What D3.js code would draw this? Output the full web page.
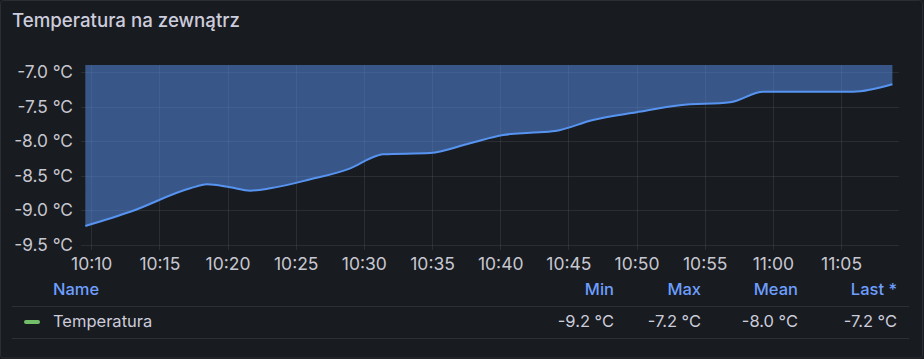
<!DOCTYPE html>
<html><head><meta charset="utf-8">
<script src="https://cdn.jsdelivr.net/npm/d3@7"></script>
<style>
html,body{margin:0;padding:0;background:#181b1f;}
svg{display:block;font-family:Inter,"Noto Sans",sans-serif;}
</style></head><body>
<svg id="c" width="924" height="359"></svg>
<script>
// ---- data ----
const title = "Temperatura na zewnątrz";
const seriesName = "Temperatura";
const unit = "°C";
const times = ["10:09:34","10:12:52","10:17:16","10:18:29","10:20:11","10:21:40","10:23:08",
  "10:26:04","10:29:00","10:30:57","10:31:25","10:34:52","10:37:47","10:40:13","10:42:11","10:44:02",
  "10:46:48","10:50:00","10:53:11","10:56:52","10:59:18","11:05:54","11:08:46"];
const values = [-9.225,-9.02,-8.681,-8.623,-8.666,-8.715,-8.681,
  -8.551,-8.392,-8.21,-8.189,-8.171,-8.03,-7.91,-7.877,-7.853,
  -7.694,-7.582,-7.481,-7.438,-7.285,-7.285,-7.178];
const yTicks = [-7.0,-7.5,-8.0,-8.5,-9.0,-9.5];
const yRange = [-9.572,-6.899];
const timeRange = ["10:09:15","11:09:15"];
const statNames = ["Min","Max","Mean","Last *"];
const statValues = [-9.2,-7.2,-8.0,-7.2];

// ---- drawing ----
const W = 924, H = 359;
const svg = d3.select("#c");
const parse = d3.timeParse("%H:%M:%S");
const data = times.map((t,i)=>({t:parse(t), v:values[i]}));

const plot = {left:81, right:899, top:65, bottom:250};
const x = d3.scaleTime().domain(timeRange.map(parse)).range([plot.left, plot.right]);
const y = d3.scaleLinear().domain(yRange).range([plot.bottom, plot.top]);

// panel frame
svg.append("rect").attr("x",0.5).attr("y",0.5).attr("width",W-2).attr("height",H-1.5)
  .attr("rx",3).attr("fill","#181b1f").attr("stroke","#2a2d33");

// title
svg.append("text").attr("x",12).attr("y",27).text(title)
  .attr("fill","#ccccdc").attr("font-size",18.7).attr("font-weight",500);

const gridColor = "rgba(204,204,220,0.1)";
// grid
const xTicks = x.ticks(d3.timeMinute.every(5));
svg.append("g").selectAll("line").data(yTicks).join("line")
  .attr("x1",plot.left).attr("x2",plot.right)
  .attr("y1",d=>Math.round(y(d))+0.5).attr("y2",d=>Math.round(y(d))+0.5)
  .attr("stroke",gridColor);
svg.append("g").selectAll("line").data(xTicks).join("line")
  .attr("x1",d=>Math.round(x(d))+0.5).attr("x2",d=>Math.round(x(d))+0.5)
  .attr("y1",plot.top).attr("y2",plot.bottom)
  .attr("stroke",gridColor);

// area + line
svg.append("clipPath").attr("id","clip").append("rect")
  .attr("x",plot.left).attr("y",plot.top).attr("width",plot.right-plot.left).attr("height",plot.bottom-plot.top);
const area = d3.area().x(d=>x(d.t)).y0(y(yRange[1])).y1(d=>y(d.v)).curve(d3.curveMonotoneX);
const line = d3.line().x(d=>x(d.t)).y(d=>y(d.v)).curve(d3.curveMonotoneX);
const g = svg.append("g").attr("clip-path","url(#clip)");
g.append("path").datum(data).attr("d",area).attr("fill","#5794f2").attr("fill-opacity",0.5);
g.append("path").datum(data).attr("d",line).attr("fill","none").attr("stroke","#5794f2").attr("stroke-width",2);

// y axis labels
const tickColor = "#c7c7d1";
const yAxis = d3.axisLeft(y).tickValues(yTicks).tickSize(0).tickPadding(0)
  .tickFormat(d=>d3.format(".1f")(d).replace("−","-")+" "+unit);
svg.append("g").attr("transform","translate(73,0)").call(yAxis)
  .call(s=>s.select(".domain").remove())
  .call(s=>s.selectAll("text").attr("fill",tickColor).attr("font-size",17.3).attr("font-family","Inter"));

// x axis labels
const xAxis = d3.axisBottom(x).tickValues(xTicks).tickSize(0).tickPadding(0)
  .tickFormat(d3.timeFormat("%H:%M"));
svg.append("g").attr("transform","translate(0,258)").call(xAxis)
  .call(s=>s.select(".domain").remove())
  .call(s=>s.selectAll("text").attr("fill",tickColor).attr("font-size",17.5).attr("font-family","Inter"));

// legend table
const statX = [614,701,798,897];
const hdr = svg.append("g").attr("font-size",16.5).attr("font-weight",500).attr("fill","#6e9fff");
hdr.append("text").attr("x",53).attr("y",295).text("Name");
statNames.forEach((n,i)=>hdr.append("text").attr("x",statX[i]).attr("y",295).attr("text-anchor","end").text(n));
svg.append("line").attr("x1",12).attr("x2",909).attr("y1",306.5).attr("y2",306.5).attr("stroke","#2c2f35");
svg.append("line").attr("x1",12).attr("x2",909).attr("y1",338.5).attr("y2",338.5).attr("stroke","#2c2f35");
svg.append("line").attr("x1",26).attr("x2",38).attr("y1",322).attr("y2",322)
  .attr("stroke","#73bf69").attr("stroke-width",4).attr("stroke-linecap","round");
const row = svg.append("g").attr("font-size",16.5).attr("fill","#ccccdc");
row.append("text").attr("x",53).attr("y",327).text(seriesName);
statValues.forEach((v,i)=>row.append("text").attr("x",statX[i]).attr("y",327).attr("text-anchor","end")
  .text(d3.format(".1f")(v).replace("−","-")+" "+unit));
</script>
</body></html>
